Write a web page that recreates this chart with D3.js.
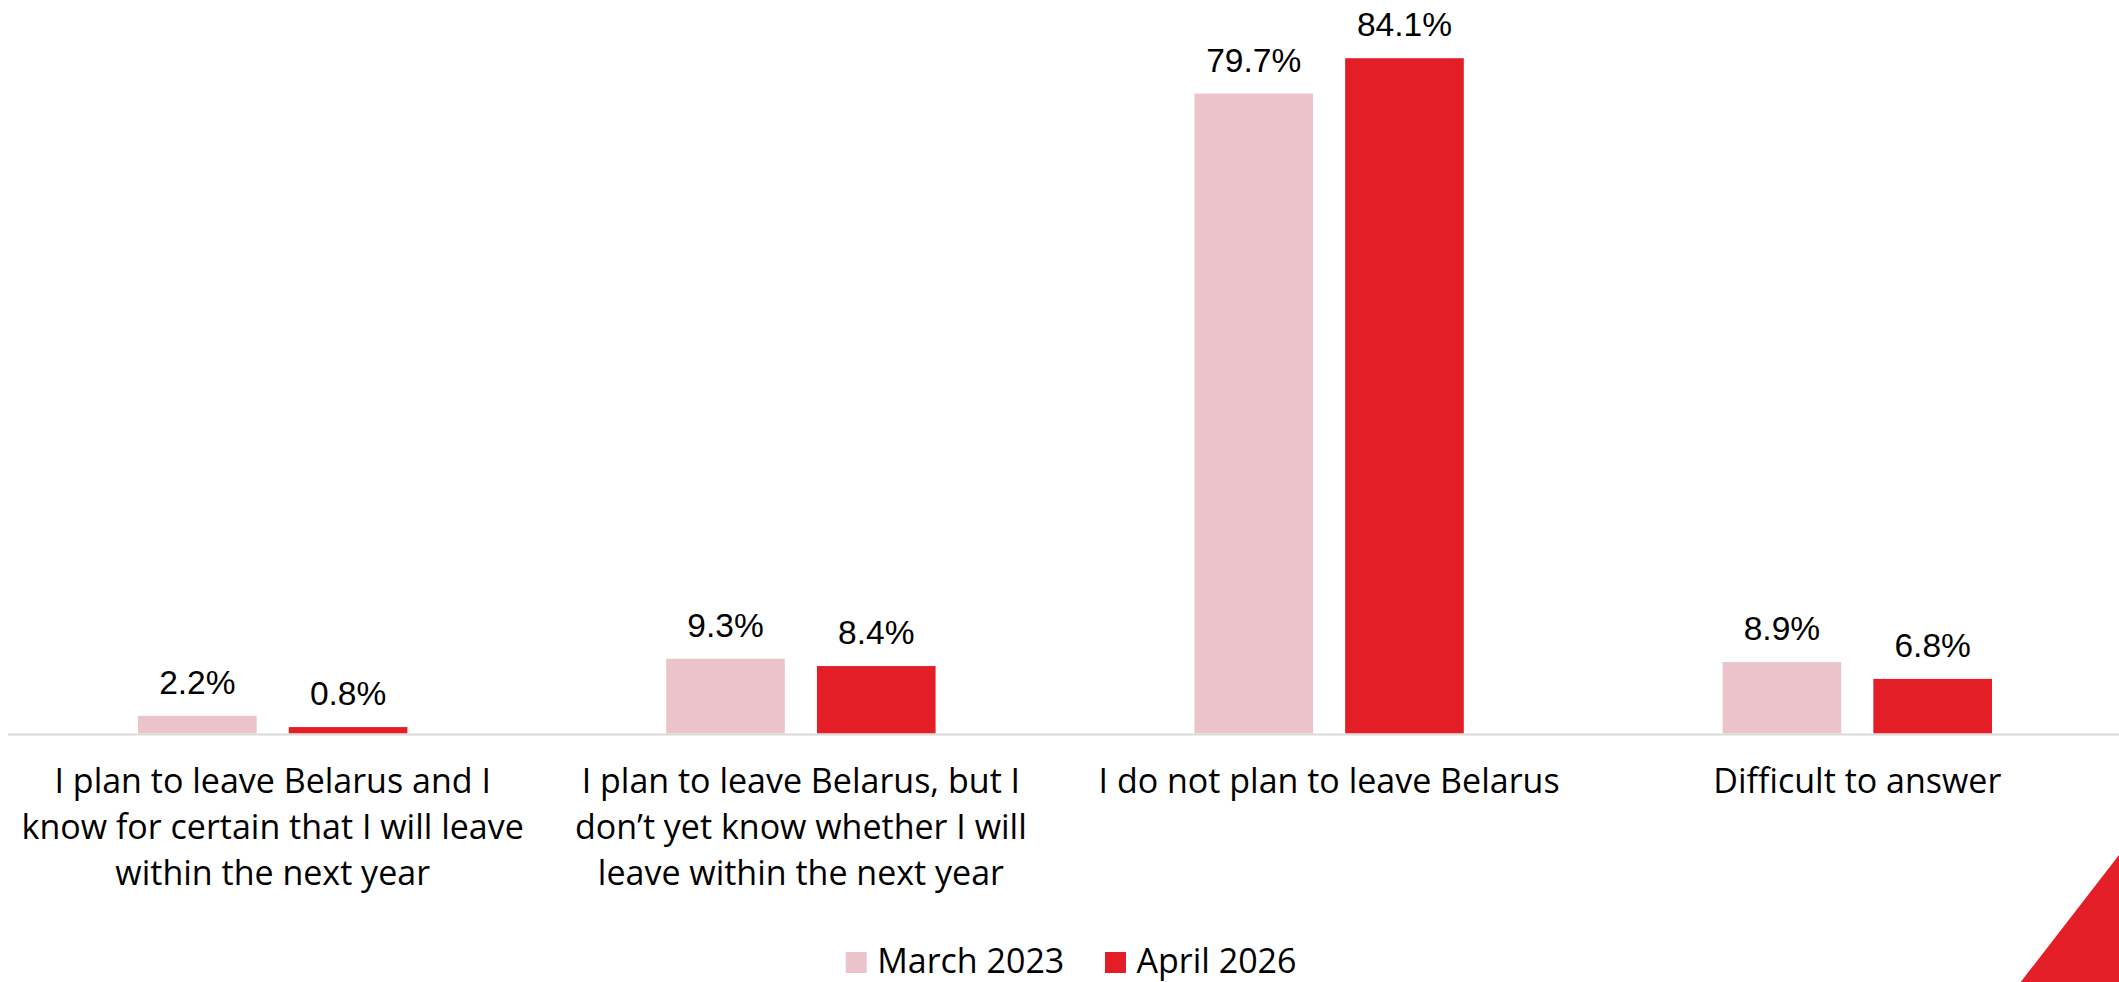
<!DOCTYPE html>
<html>
<head>
<meta charset="utf-8">
<script src="https://cdn.jsdelivr.net/npm/d3@7"></script>
<style>
  html, body { margin: 0; padding: 0; background: #ffffff; overflow: hidden; }
  svg { display: block; }
</style>
</head>
<body>
<svg id="chart" width="2119" height="982"></svg>
<script>
// Survey answers (each category label split into its display lines)
const categories = [
  "I plan to leave Belarus and I know for certain that I will leave within the next year",
  "I plan to leave Belarus, but I don't yet know whether I will leave within the next year",
  "I do not plan to leave Belarus",
  "Difficult to answer"
];
const categoryLines = [
  ["I plan to leave Belarus and I", "know for certain that I will leave", "within the next year"],
  ["I plan to leave Belarus, but I", "don\u2019t yet know whether I will", "leave within the next year"],
  ["I do not plan to leave Belarus"],
  ["Difficult to answer"]
];
const seriesNames = ["March 2023", "April 2026"];
const march2023 = [2.2, 9.3, 79.7, 8.9];
const april2026 = [0.8, 8.4, 84.1, 6.8];
const seriesColors = ["#ebc4cb", "#e31e26"];

const values = [march2023, april2026];
const rows = categories.map((c, i) => ({
  category: c,
  lines: categoryLines[i],
  bars: seriesNames.map((s, j) => ({ series: s, value: values[j][i] }))
}));

const svg = d3.select("#chart");
const W = 2119, H = 982;
const baseY = 733.5;

const x0 = d3.scaleBand()
  .domain(categories)
  .range([8.6, 2121.4])
  .paddingInner(0.49)
  .paddingOuter(0.245);

const x1 = d3.scaleBand()
  .domain(seriesNames)
  .range([0, x0.bandwidth()])
  .paddingInner(0.213)
  .paddingOuter(0);

const y = d3.scaleLinear()
  .domain([0, 91.35])
  .range([baseY, 0]);

const color = d3.scaleOrdinal().domain(seriesNames).range(seriesColors);

// Bars
const groups = svg.append("g")
  .selectAll("g")
  .data(rows)
  .join("g")
  .attr("transform", d => `translate(${x0(d.category)},0)`);

groups.selectAll("rect")
  .data(d => d.bars)
  .join("rect")
  .attr("x", d => x1(d.series))
  .attr("width", x1.bandwidth())
  .attr("y", d => y(d.value))
  .attr("height", d => y(0) - y(d.value))
  .attr("fill", d => color(d.series));

// Value labels
groups.selectAll("text.value")
  .data(d => d.bars)
  .join("text")
  .attr("class", "value")
  .attr("x", d => x1(d.series) + x1.bandwidth() / 2)
  .attr("y", d => y(d.value) - 22)
  .attr("text-anchor", "middle")
  .attr("font-family", "'Liberation Sans', Arial, sans-serif")
  .attr("font-size", 33.5)
  .attr("fill", "#000")
  .text(d => d.value.toFixed(1) + "%");

// Category axis line
svg.append("line")
  .attr("x1", 8)
  .attr("x2", W)
  .attr("y1", baseY + 1)
  .attr("y2", baseY + 1)
  .attr("stroke", "#d9d9d9")
  .attr("stroke-width", 2);

// Category labels
const catLabels = svg.append("g")
  .selectAll("text")
  .data(rows)
  .join("text")
  .attr("x", d => x0(d.category) + x0.bandwidth() / 2)
  .attr("y", 793)
  .attr("text-anchor", "middle")
  .attr("font-family", "'Open Sans', sans-serif")
  .attr("font-size", 34)
  .attr("fill", "#000");

catLabels.selectAll("tspan")
  .data(d => d.lines)
  .join("tspan")
  .attr("x", function () { return d3.select(this.parentNode).attr("x"); })
  .attr("dy", (d, i) => i === 0 ? 0 : 46)
  .text(d => d);

// Legend
const legendItems = [
  { name: seriesNames[0], x: 845.7 },
  { name: seriesNames[1], x: 1105 }
];
const legend = svg.append("g")
  .selectAll("g")
  .data(legendItems)
  .join("g")
  .attr("transform", d => `translate(${d.x},0)`);

legend.append("rect")
  .attr("x", 0)
  .attr("y", 952)
  .attr("width", 21)
  .attr("height", 21)
  .attr("fill", d => color(d.name));

legend.append("text")
  .attr("x", 31.5)
  .attr("y", 972.5)
  .attr("font-family", "'Open Sans', sans-serif")
  .attr("font-size", 34)
  .attr("fill", "#000")
  .text(d => d.name);

// Corner accent
svg.append("path")
  .attr("d", d3.line()([[2020.7, H], [W, 855], [W, H]]) + "Z")
  .attr("fill", "#e31e26");
</script>
</body>
</html>
